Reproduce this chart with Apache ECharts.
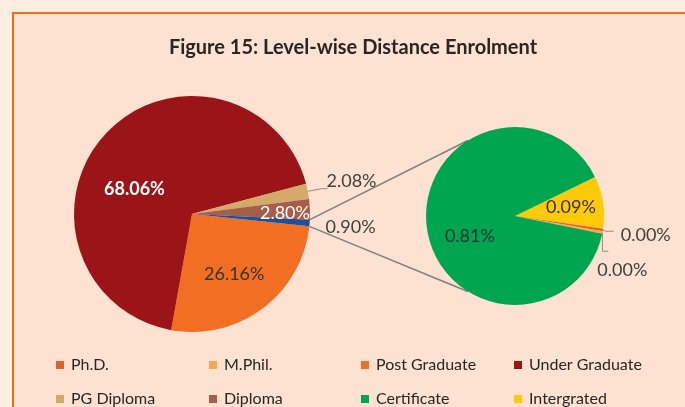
<!DOCTYPE html>
<html>
<head>
<meta charset="utf-8">
<script src="https://cdn.jsdelivr.net/npm/echarts@6/dist/echarts.min.js"></script>
<style>
html,body{margin:0;padding:0;background:#fdeee0;overflow:hidden;}
#frame{position:absolute;left:12px;top:12px;width:700px;height:420px;border:2px solid #f26b21;background:#fde2d2;}
#main{position:absolute;left:0;top:0;width:685px;height:407px;}
</style>
</head>
<body>
<div id="frame"></div>
<div id="main"></div>
<script>
// main pie (clockwise from the right), last slice is the split-off part
var mainNames = ['Post Graduate', 'Under Graduate', 'PG Diploma', 'Diploma', 'Other'];
var mainValues = [26.16, 68.06, 2.08, 2.80, 0.90];
// secondary pie
var subNames = ['Intergrated', 'Ph.D.', 'M.Phil.', 'Certificate'];
var subValues = [0.086, 0.004, 0.004, 0.81];
// legend columns
var legendCols = [
    ['Ph.D.', 'PG Diploma'],
    ['M.Phil.', 'Diploma'],
    ['Post Graduate', 'Certificate'],
    ['Under Graduate', 'Intergrated']
];

var colors = {
    'Ph.D.': '#e0602a',
    'M.Phil.': '#f9a84d',
    'Post Graduate': '#f26e22',
    'Under Graduate': '#9b1418',
    'PG Diploma': '#d3aa68',
    'Diploma': '#a65d4c',
    'Certificate': '#00a54f',
    'Intergrated': '#fdca0a',
    'Other': '#1f4f9a'
};

var FONT = 'Lato';
var leftC = [192, 214], leftR = 118, leftStart = -6;
var rightC = [515, 216], rightR = 89, rightStart = 26;

var chart = echarts.init(document.getElementById('main'));

function pct(p) { return p.value.toFixed(2) + '%'; }

var mainData = mainNames.map(function (n, i) {
    var d = {name: n, value: mainValues[i], itemStyle: {color: colors[n]}};
    if (n === 'Under Graduate') d.label = {position: 'inside', color: '#fff', fontWeight: 'bold'};
    else if (n === 'Post Graduate') d.label = {position: 'inside', color: '#333'};
    else if (n === 'Diploma') d.label = {position: 'inside', color: '#fff'};
    else if (n === 'Other') d.labelLine = {show: false};
    return d;
});
var subData = subNames.map(function (n, i) {
    var d = {name: n, value: subValues[i], itemStyle: {color: colors[n]}};
    if (n === 'Certificate' || n === 'Intergrated') d.label = {position: 'inside', color: '#333'};
    return d;
});

// connector lines: from the edges of the split slice to the secondary pie
var total = mainValues.reduce(function (a, b) { return a + b; }, 0);
var otherSpan = mainValues[mainValues.length - 1] / total * 360;
function pt(c, r, deg) {
    var a = deg * Math.PI / 180;
    return [c[0] + r * Math.cos(a), c[1] - r * Math.sin(a)];
}
var a1 = pt(leftC, leftR, leftStart + otherSpan), a2 = pt(leftC, leftR, leftStart);
var b1 = pt(rightC, rightR, 122), b2 = pt(rightC, rightR, -122);

var legends = legendCols.map(function (col, i) {
    return {
        data: col,
        orient: 'vertical',
        left: [56, 209, 361, 514][i],
        top: 357,
        padding: 0,
        icon: 'rect',
        itemWidth: 8,
        itemHeight: 8,
        itemGap: 18,
        selectedMode: false,
        textStyle: {fontFamily: FONT, fontSize: 16, lineHeight: 16, color: '#262626', padding: [0, 0, 0, 2]}
    };
});

var option = {
    animation: false,
    title: {
        text: 'Figure 15: Level-wise Distance Enrolment',
        left: 348,
        textAlign: 'center',
        top: 33,
        textStyle: {fontFamily: FONT, fontSize: 20, fontWeight: 'bold', color: '#262626'}
    },
    legend: legends,
    graphic: [
        {type: 'line', shape: {x1: a1[0], y1: a1[1], x2: b1[0], y2: b1[1]}, style: {stroke: '#7f7f7f', lineWidth: 1.5}, z: 0},
        {type: 'line', shape: {x1: a2[0], y1: a2[1], x2: b2[0], y2: b2[1]}, style: {stroke: '#7f7f7f', lineWidth: 1.5}, z: 0}
    ],
    series: [
        {
            name: 'main',
            type: 'pie',
            center: leftC,
            radius: leftR,
            startAngle: leftStart,
            clockwise: true,
            data: mainData,
            label: {formatter: pct, fontFamily: FONT, fontSize: 18, color: '#404040'},
            labelLine: {length: 14, length2: 6, lineStyle: {color: '#8c8c8c', width: 1}},
            labelLayout: function (p) {
                if (p.dataIndex === 1) return {dx: -12, dy: 17};
                if (p.dataIndex === 0) return {dx: 5, dy: 11};
                if (p.dataIndex === 3) return {dx: 31, dy: 2};
                if (p.dataIndex === 2) return {dx: -6, dy: -7};
                if (p.dataIndex === 4) return {dx: -9, dy: 3};
            },
            emphasis: {disabled: true}
        },
        {
            name: 'sub',
            type: 'pie',
            center: rightC,
            radius: rightR,
            startAngle: rightStart,
            clockwise: true,
            data: subData,
            label: {formatter: pct, fontFamily: FONT, fontSize: 18, color: '#404040'},
            labelLine: {length: 8, length2: 8, lineStyle: {color: '#8c8c8c', width: 1}},
            labelLayout: function (p) {
                if (p.dataIndex === 3) return {dx: 2, dy: 14};
                if (p.dataIndex === 0) return {dx: 9, dy: -1};
                if (p.dataIndex === 1) return {dx: 2, dy: 4};
                if (p.dataIndex === 2) return {dx: -16, dy: 19};
            },
            emphasis: {disabled: true}
        }
    ]
};
chart.setOption(option);
</script>
</body>
</html>
